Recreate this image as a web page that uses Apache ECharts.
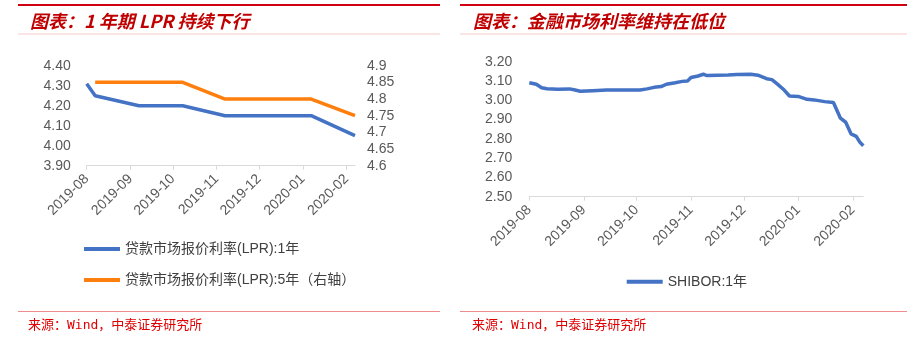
<!DOCTYPE html>
<html>
<head>
<meta charset="utf-8">
<script src="https://cdn.jsdelivr.net/npm/echarts@6/dist/echarts.min.js"></script>
<style>
html,body{margin:0;padding:0;background:#fff;}
#c{width:918px;height:341px;}
</style>
</head>
<body>
<div id="c"></div>
<script>
// ---- data ----
const monthTicks = ['2019-08','2019-09','2019-10','2019-11','2019-12','2020-01','2020-02'];
const leftYTicks = ['3.90','4.00','4.10','4.20','4.30','4.40'];
const rightYTicks = ['4.6','4.65','4.7','4.75','4.8','4.85','4.9'];
const shiborYTicks = ['2.50','2.60','2.70','2.80','2.90','3.00','3.10','3.20'];

const lpr1Dates = ['2019-08-01','2019-08-07','2019-09-07','2019-10-08','2019-11-07','2019-12-07','2020-01-07','2020-02-07'];
const lpr1Values = [4.31,4.25,4.20,4.20,4.15,4.15,4.15,4.05];
const lpr5Dates = ['2019-08-07','2019-09-07','2019-10-08','2019-11-07','2019-12-07','2020-01-07','2020-02-07'];
const lpr5Values = [4.85,4.85,4.85,4.80,4.80,4.80,4.75];

const shiborDates = ['2019-08-01','2019-08-05','2019-08-08','2019-08-11','2019-08-17','2019-08-24','2019-08-27','2019-08-30',
  '2019-09-06','2019-09-14','2019-09-25','2019-10-03','2019-10-07','2019-10-11','2019-10-15','2019-10-18','2019-10-23',
  '2019-10-27','2019-10-30','2019-11-01','2019-11-05','2019-11-08','2019-11-10','2019-11-16','2019-11-22','2019-11-27',
  '2019-12-05','2019-12-09','2019-12-14','2019-12-17','2019-12-20','2019-12-24','2019-12-27','2020-01-01','2020-01-06',
  '2020-01-10','2020-01-16','2020-01-21','2020-01-25','2020-01-28','2020-01-31','2020-02-03','2020-02-05','2020-02-07'];
const shiborValues = [3.091,3.083,3.065,3.060,3.057,3.059,3.053,3.047,
  3.050,3.053,3.053,3.053,3.059,3.067,3.071,3.083,3.091,
  3.098,3.100,3.118,3.126,3.135,3.128,3.130,3.131,3.133,
  3.135,3.130,3.112,3.107,3.085,3.053,3.022,3.020,3.005,
  3.002,2.993,2.988,2.907,2.886,2.826,2.813,2.783,2.764];

// ---- helpers ----
function ts(s){const p=s.split('-').map(Number);return Date.UTC(p[0],p[1]-1,p[2]||1);}
const tickTs = monthTicks.map(ts);
function pairs(d,v){return d.map((x,i)=>[ts(x),v[i]]);}
function monthLabel(val){const i=tickTs.indexOf(val);return i>=0?monthTicks[i]:'';}

const axisGray = '#D9D9D9';
const labelColor = '#595959';
const F = 'Liberation Sans, Arial, sans-serif';
const blue = '#4472C4';
const orange = '#FF7F0E';

function xAxisCfg(grid,maxDate){
  return {
    type:'value', gridIndex:grid, min:tickTs[0], max:ts(maxDate),
    axisLine:{show:true,lineStyle:{color:axisGray,width:1}},
    axisTick:{show:true,length:4,lineStyle:{color:axisGray},customValues:tickTs},
    axisLabel:{rotate:45,color:labelColor,fontSize:14,fontFamily:F,margin:11,customValues:tickTs,
      formatter:monthLabel,hideOverlap:false},
    splitLine:{show:false}
  };
}
function yAxisCfg(grid,pos,min,max,interval,labels,margin){
  return {
    type:'value', gridIndex:grid, position:pos, min:min, max:max, interval:interval,
    axisLine:{show:false}, axisTick:{show:false}, splitLine:{show:false},
    axisLabel:{color:labelColor,fontSize:14,fontFamily:F,margin:margin,
      formatter:function(v){const i=Math.round((v-min)/interval);return labels[i]!==undefined?labels[i]:'';}}
  };
}

const chart = echarts.init(document.getElementById('c'),null,{renderer:'canvas'});
const titleStyle = {fill:'#C00000',fontSize:18,fontWeight:'bold',fontStyle:'italic',fontFamily:'Noto Sans CJK SC, sans-serif'};
const srcStyle = {fill:'#E00000',fontSize:13,fontFamily:'DejaVu Sans Mono, Noto Sans CJK SC, monospace'};
function hline(x1,x2,y,color,w){return {type:'line',shape:{x1:x1,y1:y,x2:x2,y2:y},style:{stroke:color,lineWidth:w},silent:true};}
const legendText = {color:'#404040',fontSize:14,fontFamily:'Liberation Sans, Noto Sans CJK SC, sans-serif'};

chart.setOption({
  animation:false,
  backgroundColor:'#fff',
  grid:[
    {left:86.7,top:65.7,width:268.3,height:100},
    {left:529.3,top:61.7,width:334,height:135}
  ],
  xAxis:[xAxisCfg(0,'2020-02-07'),xAxisCfg(1,'2020-02-07')],
  yAxis:[
    yAxisCfg(0,'left',3.9,4.4,0.1,leftYTicks,16),
    yAxisCfg(0,'right',4.6,4.9,0.05,rightYTicks,12),
    yAxisCfg(1,'left',2.5,3.2,0.1,shiborYTicks,17)
  ],
  legend:[
    {orient:'vertical',left:84,top:242,padding:0,itemWidth:36,itemHeight:4,itemGap:17,icon:'rect',
     textStyle:legendText,
     data:['贷款市场报价利率(LPR):1年','贷款市场报价利率(LPR):5年（右轴）']},
    {orient:'horizontal',left:626.7,top:274.7,padding:0,itemWidth:36,itemHeight:4,icon:'rect',
     textStyle:legendText,
     data:['SHIBOR:1年']}
  ],
  series:[
    {name:'贷款市场报价利率(LPR):1年',type:'line',xAxisIndex:0,yAxisIndex:0,symbol:'none',
     lineStyle:{color:blue,width:3.5},itemStyle:{color:blue},data:pairs(lpr1Dates,lpr1Values)},
    {name:'贷款市场报价利率(LPR):5年（右轴）',type:'line',xAxisIndex:0,yAxisIndex:1,symbol:'none',
     lineStyle:{color:orange,width:3.5},itemStyle:{color:orange},data:pairs(lpr5Dates,lpr5Values)},
    {name:'SHIBOR:1年',type:'line',xAxisIndex:1,yAxisIndex:2,symbol:'none',
     lineStyle:{color:blue,width:3.5},itemStyle:{color:blue},data:pairs(shiborDates,shiborValues)}
  ],
  graphic:[
    hline(18,440,5,'#D00012',2),
    hline(460,907,5,'#D00012',2),
    hline(18,440,34,'#F6CACA',1),
    hline(460,907,34,'#F6CACA',1),
    hline(18,440,311.5,'#F08C8C',1),
    hline(460,907,311.5,'#F08C8C',1),
    {type:'text',left:30,top:12,style:Object.assign({text:'图表：1 年期 LPR 持续下行'},titleStyle)},
    {type:'text',left:473,top:12,style:Object.assign({text:'图表：金融市场利率维持在低位'},titleStyle)},
    {type:'text',left:28,top:319,style:Object.assign({text:'来源：Wind，中泰证券研究所'},srcStyle)},
    {type:'text',left:472,top:319,style:Object.assign({text:'来源：Wind，中泰证券研究所'},srcStyle)}
  ]
});
</script>
</body>
</html>
